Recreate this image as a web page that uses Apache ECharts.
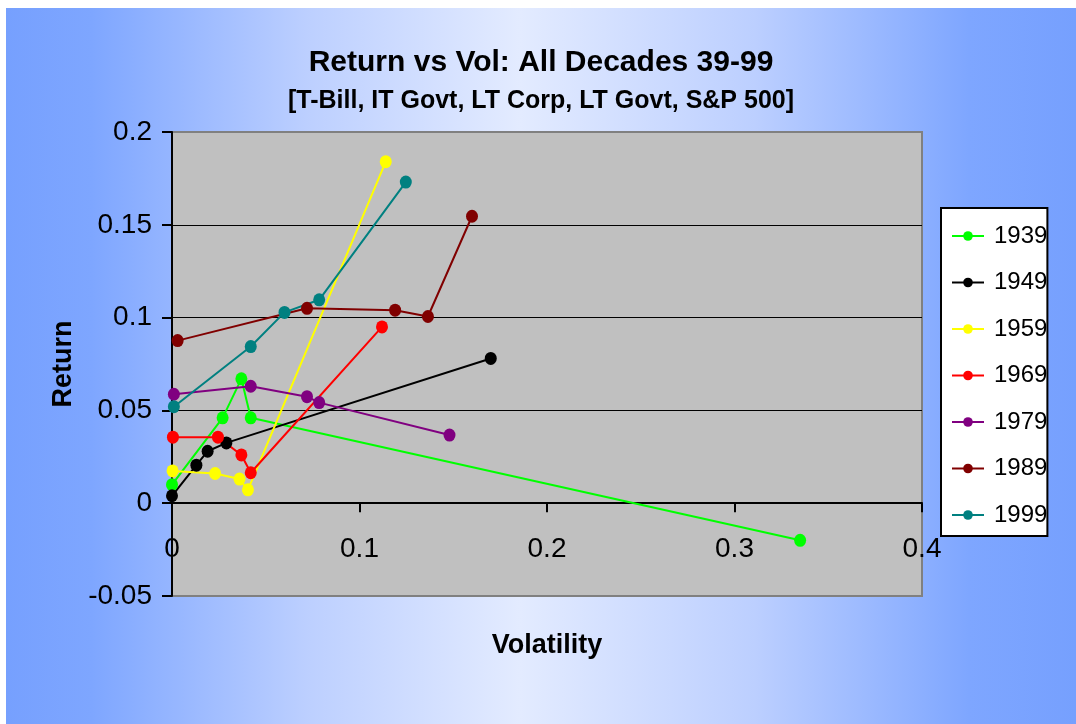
<!DOCTYPE html>
<html>
<head>
<meta charset="utf-8">
<title>Return vs Vol</title>
<script src="https://cdn.jsdelivr.net/npm/echarts@6/dist/echarts.min.js"></script>
<style>
  html, body { margin: 0; padding: 0; background: #fff; }
  #return-vol {
    position: absolute;
    left: 6px;
    top: 8px;
    width: 1070px;
    height: 716px;
  }
</style>
</head>
<body>
<div id="return-vol"></div>
<script>
// volatility / return per decade (T-Bill, IT Govt, LT Corp, LT Govt, S&P 500)
const decades = ['1939', '1949', '1959', '1969', '1979', '1989', '1999']
const vol1939 = [0, 0.027, 0.037, 0.042, 0.335]
const ret1939 = [0.010, 0.046, 0.067, 0.046, -0.020]
const vol1949 = [0, 0.013, 0.019, 0.029, 0.170]
const ret1949 = [0.004, 0.0205, 0.028, 0.0325, 0.078]
const vol1959 = [0.0003, 0.023, 0.036, 0.0405, 0.114]
const ret1959 = [0.0174, 0.016, 0.013, 0.0072, 0.184]
const vol1969 = [0.0005, 0.0245, 0.037, 0.042, 0.112]
const ret1969 = [0.0356, 0.0356, 0.026, 0.0164, 0.095]
const vol1979 = [0.001, 0.042, 0.072, 0.0785, 0.148]
const ret1979 = [0.0587, 0.063, 0.0574, 0.0542, 0.0367]
const vol1989 = [0.003, 0.072, 0.119, 0.1365, 0.160]
const ret1989 = [0.0876, 0.105, 0.104, 0.1006, 0.1546]
const vol1999 = [0.001, 0.042, 0.060, 0.0785, 0.1247]
const ret1999 = [0.052, 0.0844, 0.1028, 0.1096, 0.173]
const xTicks = [0, 0.1, 0.2, 0.3, 0.4]
const yTicks = [-0.05, 0, 0.05, 0.1, 0.15, 0.2]

const volList = [vol1939, vol1949, vol1959, vol1969, vol1979, vol1989, vol1999]
const retList = [ret1939, ret1949, ret1959, ret1969, ret1979, ret1989, ret1999]
const colors = ['#00ff00', '#000000', '#ffff00', '#ff0000', '#800080', '#800000', '#008080']

const font = '"Liberation Sans", Arial, sans-serif'

const myChart = echarts.init(document.getElementById('return-vol'))

const series = decades.map((name, i) => {
  const data = volList[i].map((v, j) => [v, retList[i][j]])
  return {
    name: name,
    type: 'line',
    data: data,
    symbol: 'circle',
    symbolSize: [12, 13],
    showAllSymbol: true,
    lineStyle: { width: 2, color: colors[i] },
    itemStyle: { color: colors[i] },
    emphasis: { disabled: true },
  }
})

const option = {
  backgroundColor: new echarts.graphic.LinearGradient(0, 0, 1, 0, [
    { offset: 0, color: '#76a0fe' },
    { offset: 0.08, color: '#7ea6ff' },
    { offset: 0.28, color: '#bccfff' },
    { offset: 0.48, color: '#e3ebff' },
    { offset: 0.7, color: '#bccfff' },
    { offset: 0.9, color: '#7ea6ff' },
    { offset: 1, color: '#76a0fe' },
  ]),
  animation: false,
  title: {
    text: 'Return vs Vol: All Decades 39-99',
    subtext: '[T-Bill, IT Govt, LT Corp, LT Govt, S&P 500]',
    left: 'center',
    top: 35,
    itemGap: 11,
    textStyle: { fontFamily: font, fontSize: 30, fontWeight: 'bold', color: '#000' },
    subtextStyle: { fontFamily: font, fontSize: 25, fontWeight: 'bold', color: '#000' },
  },
  legend: {
    orient: 'vertical',
    left: 935,
    top: 200,
    padding: [16, 0, 9, 10],
    itemGap: 22.5,
    itemWidth: 32,
    itemHeight: 12,
    backgroundColor: '#ffffff',
    borderColor: '#000000',
    borderWidth: 2,
    borderRadius: 0,
    textStyle: { fontFamily: font, fontSize: 24, lineHeight: 24, color: '#000', padding: [0, 0, 0, 5] },
    data: decades,
  },
  grid: {
    left: 166,
    top: 124,
    right: 154,
    bottom: 128,
    outerBoundsMode: 'none',
    containLabel: false,
    show: true,
    backgroundColor: '#c0c0c0',
    borderColor: '#808080',
    borderWidth: 2,
  },
  xAxis: {
    type: 'value',
    min: xTicks[0],
    max: xTicks[xTicks.length - 1],
    interval: 0.1,
    name: 'Volatility',
    nameLocation: 'middle',
    nameGap: 36,
    nameTextStyle: { fontFamily: font, fontSize: 27, fontWeight: 'bold', color: '#000' },
    axisLine: { onZero: true, lineStyle: { color: '#000', width: 2 } },
    axisTick: { show: true, length: 9, lineStyle: { color: '#000', width: 2 } },
    axisLabel: { inside: true, fontFamily: font, fontSize: 28, color: '#000', margin: 33 },
    splitLine: { show: false },
  },
  yAxis: {
    type: 'value',
    min: yTicks[0],
    max: yTicks[yTicks.length - 1],
    interval: 0.05,
    name: 'Return',
    nameLocation: 'middle',
    nameGap: 95,
    nameTextStyle: { fontFamily: font, fontSize: 27, fontWeight: 'bold', color: '#000' },
    axisLine: { show: true, lineStyle: { color: '#000', width: 2 } },
    axisTick: { show: true, length: 10, lineStyle: { color: '#000', width: 2 } },
    axisLabel: { fontFamily: font, fontSize: 28, color: '#000', margin: 20 },
    splitLine: {
      show: true,
      showMinLine: false,
      showMaxLine: false,
      lineStyle: { color: '#000', width: 1 },
    },
  },
  series: series,
}
myChart.setOption(option)
</script>
</body>
</html>
